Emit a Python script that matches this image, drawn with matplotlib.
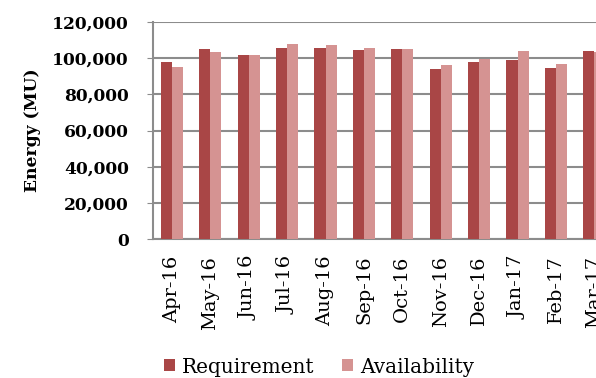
import matplotlib.pyplot as plt
import numpy as np
from matplotlib.ticker import FuncFormatter

months = ["Apr-16", "May-16", "Jun-16", "Jul-16", "Aug-16", "Sep-16",
          "Oct-16", "Nov-16", "Dec-16", "Jan-17", "Feb-17", "Mar-17"]
requirement = [97700, 105100, 101600, 105600, 105400, 104300,
               104900, 93800, 97700, 99200, 94400, 104100]
availability = [94900, 103200, 101600, 107800, 107100, 105400,
                105200, 96400, 99700, 104100, 96800, 103500]

req_color = "#A94646"
avail_color = "#D59392"
grid_color = "#8C8C8C"

plt.rcParams['font.family'] = ['DejaVu Serif']

fig = plt.figure(figsize=(5.96, 3.78), dpi=100)
# axes run past the right edge of the figure, like the original crop
ax = fig.add_axes([0.2562, 0.3677, 0.7732, 0.5741])

x = np.arange(len(months))
w = 0.29
ax.bar(x - w / 2, requirement, w, color=req_color, label="Requirement", zorder=3)
ax.bar(x + w / 2, availability, w, color=avail_color, label="Availability", zorder=3)

ax.set_xlim(-0.5, len(months) - 0.5)
ax.set_ylim(0, 120000)
ax.set_yticks(np.arange(0, 120001, 20000))
ax.yaxis.set_major_formatter(FuncFormatter(lambda v, p: f"{int(v):,}"))
ax.grid(axis="y", color=grid_color, linewidth=1.5, zorder=0)

for side in ["top", "right"]:
    ax.spines[side].set_visible(False)
for side in ["left", "bottom"]:
    ax.spines[side].set_color(grid_color)
    ax.spines[side].set_linewidth(1.5)

ax.set_xticks(x)
ax.set_xticklabels(months, rotation=90, fontsize=14)
ax.tick_params(axis="x", length=0, pad=12)
ax.tick_params(axis="y", length=4.3, color=grid_color, pad=13)
for lbl in ax.get_yticklabels():
    lbl.set_fontweight("bold")
    lbl.set_fontsize(12.3)

ax.set_ylabel("Energy (MU)", fontsize=12.3, fontweight="bold", labelpad=8)

fig.legend(loc="center", bbox_to_anchor=(0.535, 0.029), ncol=2, frameon=False,
           fontsize=14.4, handlelength=0.55, handleheight=0.55,
           handletextpad=0.35, columnspacing=1.4)

fig.savefig("out.png", dpi=100)
